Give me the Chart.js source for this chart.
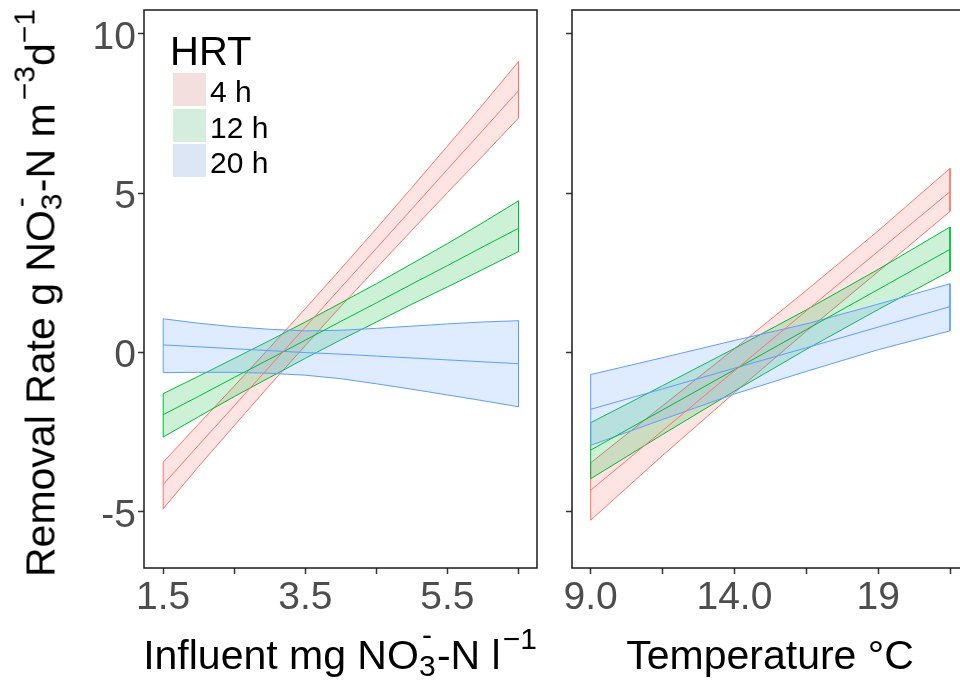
<!DOCTYPE html>
<html>
<head>
<meta charset="utf-8">
<script src="https://cdn.jsdelivr.net/npm/chart.js@4.4.0/dist/chart.umd.min.js"></script>
<style>
  html, body { margin: 0; padding: 0; background: #fff; overflow: hidden; }
  #wrap { position: relative; width: 960px; height: 683px; overflow: hidden; font-family: 'Liberation Sans', Arial, sans-serif; }
  canvas { position: absolute; top: 0; }
  #c-inf { left: 0; }
  #c-tmp { left: 540px; }
  .title { position: absolute; font-size: 41px; line-height: 41px; white-space: nowrap; color: #000; }
  .sup { position: relative; font-size: 30px; line-height: 30px; top: -20px; }
  .stk { display: inline-block; position: relative; width: 18px; height: 0; }
  .stk .up { position: absolute; left: 3px; top: -49px; font-size: 30px; line-height: 30px; }
  .stk .dn { position: absolute; left: 0; top: -18px; font-size: 30px; line-height: 30px; }
  #legend { position: absolute; left: 0; top: 0; width: 300px; height: 200px; }
  .leg-title { position: absolute; left: 170px; top: 31px; font-size: 40px; line-height: 40px; white-space: nowrap; }
  .leg-key { position: absolute; left: 173px; width: 33px; height: 33px; }
  .leg-lab { position: absolute; left: 210px; font-size: 30px; line-height: 30px; white-space: nowrap; }
</style>
</head>
<body>
<div id="wrap">
  <canvas id="c-inf" width="545" height="683"></canvas>
  <canvas id="c-tmp" width="440" height="683"></canvas>

  <div class="title" id="yt" style="left:41px; top:293px; transform: translate(-50%, -50%) rotate(-90deg);">Removal Rate g NO<span class="stk"><span class="up">-</span><span class="dn">3</span></span>-N m<span class="sup" style="margin-left:3px">−3</span>d<span class="sup">−1</span></div>
  <div class="title" style="left:340px; top:635px; transform: translateX(-50%);">Influent mg NO<span class="stk"><span class="up">-</span><span class="dn">3</span></span>-N l<span class="sup" style="margin-left:2px">−1</span></div>
  <div class="title" style="left:770px; top:635px; transform: translateX(-50%);">Temperature °C</div>

  <div id="legend"><div class="leg-title">HRT</div></div>
</div>

<script>
// HRT groups
const hrtLabels = ['4 h', '12 h', '20 h'];
const hrtColors = ['#F8766D', '#00BA38', '#619CFF'];
const hrtKeyColors = ['#F3DFDD', '#D5EDDC', '#DDE6F4'];

// Left panel: influent nitrate (mg/l)
const influentX = [1.5, 2, 2.5, 3, 3.5, 4, 4.5, 5, 5.5, 6, 6.5];
const inf4hFit  = [-4.14, -2.90, -1.67, -0.43, 0.80, 2.04, 3.27, 4.51, 5.75, 6.98, 8.22];
const inf4hHigh = [-3.44, -2.24, -1.05, 0.16, 1.38, 2.63, 3.89, 5.18, 6.48, 7.79, 9.13];
const inf4hLow  = [-4.90, -3.57, -2.29, -1.02, 0.22, 1.45, 2.65, 3.84, 5.02, 6.18, 7.36];
const inf12hFit  = [-1.95, -1.37, -0.78, -0.20, 0.39, 0.98, 1.56, 2.15, 2.73, 3.32, 3.90];
const inf12hHigh = [-1.29, -0.74, -0.18, 0.38, 0.96, 1.56, 2.16, 2.79, 3.42, 4.08, 4.76];
const inf12hLow  = [-2.65, -2.01, -1.38, -0.78, -0.18, 0.40, 0.96, 1.52, 2.06, 2.61, 3.17];
const inf20hFit  = [0.24, 0.18, 0.12, 0.06, 0.00, -0.05, -0.11, -0.17, -0.23, -0.29, -0.35];
const inf20hHigh = [1.06, 0.92, 0.81, 0.73, 0.68, 0.70, 0.76, 0.83, 0.90, 0.96, 1.00];
const inf20hLow  = [-0.63, -0.62, -0.62, -0.65, -0.71, -0.82, -0.98, -1.15, -1.33, -1.51, -1.70];

// Right panel: temperature (°C)
const tempX = [9, 11.5, 14, 16.5, 19, 21.5];
const tmp4hFit  = [-4.32, -2.45, -0.57, 1.31, 3.18, 5.05];
const tmp4hHigh = [-3.46, -1.67, 0.12, 1.95, 3.82, 5.78];
const tmp4hLow  = [-5.26, -3.23, -1.26, 0.67, 2.54, 4.43];
const tmp12hFit  = [-3.06, -1.80, -0.54, 0.72, 1.98, 3.24];
const tmp12hHigh = [-2.20, -1.04, 0.13, 1.34, 2.61, 3.94];
const tmp12hLow  = [-3.96, -2.57, -1.21, 0.10, 1.35, 2.56];
const tmp20hFit  = [-1.78, -1.14, -0.49, 0.15, 0.80, 1.44];
const tmp20hHigh = [-0.69, -0.16, 0.38, 0.90, 1.52, 2.16];
const tmp20hLow  = [-2.91, -2.10, -1.30, -0.59, 0.09, 0.68];

// Axis ticks
const influentTicks = [1.5, 2.5, 3.5, 4.5, 5.5, 6.5];
const influentTickLabels = ['1.5', '', '3.5', '', '5.5', ''];
const tempTicks = [9, 11.5, 14, 16.5, 19, 21.5];
const tempTickLabels = ['9.0', '', '14.0', '', '19', ''];
const yTicks = [-5, 0, 5, 10];
const yTickLabels = ['-5', '0', '5', '10'];

const FONT = "'Liberation Sans', Arial, sans-serif";

function alpha(hex, a) {
  const n = parseInt(hex.slice(1), 16);
  return `rgba(${(n >> 16) & 255}, ${(n >> 8) & 255}, ${n & 255}, ${a})`;
}

function ribbon(xs, low, high, color, order) {
  const pts = xs.map((x, i) => ({ x, y: high[i] }))
    .concat(xs.map((x, i) => ({ x, y: low[i] })).reverse());
  pts.push({ x: xs[0], y: high[0] });
  return {
    data: pts,
    borderColor: color,
    borderWidth: 1,
    backgroundColor: alpha(color, 0.2),
    fill: 'shape',
    pointRadius: 0,
    tension: 0,
    order
  };
}

function fitLine(xs, fit, color) {
  return {
    data: xs.map((x, i) => ({ x, y: fit[i] })),
    borderColor: color,
    borderWidth: 1,
    fill: false,
    pointRadius: 0,
    tension: 0,
    order: 0
  };
}

function groupDatasets(xs, groups) {
  const out = [];
  groups.forEach((g, k) => {
    out.push(ribbon(xs, g.low, g.high, hrtColors[k], 3 - k));
    out.push(fitLine(xs, g.fit, hrtColors[k]));
  });
  return out;
}

const tickGrid = {
  drawOnChartArea: false,
  drawTicks: true,
  tickLength: 6,
  tickColor: '#333333',
  tickWidth: 1.5
};

function xAxis(min, max, ticks, labels) {
  return {
    type: 'linear',
    min, max,
    afterBuildTicks: s => { s.ticks = ticks.map(v => ({ value: v })); },
    afterFit: s => { s.height = 115; s.paddingLeft = 0; s.paddingRight = 0; },
    ticks: {
      callback: (v, i) => labels[i],
      autoSkip: false,
      maxRotation: 0,
      padding: 1,
      color: '#4D4D4D',
      font: { family: FONT, size: 39 }
    },
    grid: tickGrid,
    border: { display: false }
  };
}

function yAxis(width, showLabels) {
  return {
    type: 'linear',
    min: -6.76, max: 10.75,
    afterBuildTicks: s => { s.ticks = yTicks.map(v => ({ value: v })); },
    afterFit: s => { s.width = width; s.paddingTop = 0; s.paddingBottom = 0; },
    ticks: {
      display: showLabels,
      callback: (v, i) => yTickLabels[i],
      padding: 2,
      labelOffset: 4,
      color: '#4D4D4D',
      font: { family: FONT, size: 39 }
    },
    grid: tickGrid,
    border: { display: false }
  };
}

const framePlugin = {
  id: 'frame',
  afterDraw(chart) {
    const { ctx, chartArea: a } = chart;
    ctx.save();
    ctx.strokeStyle = '#1a1a1a';
    ctx.lineWidth = 1.5;
    ctx.strokeRect(a.left, a.top, a.right - a.left, a.bottom - a.top);
    ctx.restore();
  }
};

function makePanel(id, datasets, xScale, yScale, padRight) {
  return new Chart(document.getElementById(id), {
    type: 'line',
    data: { datasets },
    options: {
      responsive: false,
      animation: false,
      events: [],
      layout: { padding: { top: 10, right: padRight, left: 0, bottom: 0 } },
      plugins: { legend: { display: false }, tooltip: { enabled: false } },
      scales: { x: xScale, y: yScale }
    },
    plugins: [framePlugin]
  });
}

makePanel('c-inf',
  groupDatasets(influentX, [
    { fit: inf4hFit, low: inf4hLow, high: inf4hHigh },
    { fit: inf12hFit, low: inf12hLow, high: inf12hHigh },
    { fit: inf20hFit, low: inf20hLow, high: inf20hHigh }
  ]),
  xAxis(1.23, 6.76, influentTicks, influentTickLabels),
  yAxis(144, true),
  8);

makePanel('c-tmp',
  groupDatasets(tempX, [
    { fit: tmp4hFit, low: tmp4hLow, high: tmp4hHigh },
    { fit: tmp12hFit, low: tmp12hLow, high: tmp12hHigh },
    { fit: tmp20hFit, low: tmp20hLow, high: tmp20hHigh }
  ]),
  xAxis(8.35, 22.16, tempTicks, tempTickLabels),
  yAxis(32, false),
  11);

// Legend (HRT), inside left panel
const legend = document.getElementById('legend');
hrtLabels.forEach((lab, i) => {
  const top = 73 + i * 35.5;
  const key = document.createElement('div');
  key.className = 'leg-key';
  key.style.top = top + 'px';
  key.style.background = hrtKeyColors[i];
  legend.appendChild(key);
  const txt = document.createElement('div');
  txt.className = 'leg-lab';
  txt.style.top = (top + 4) + 'px';
  txt.textContent = lab;
  legend.appendChild(txt);
});
</script>
</body>
</html>
